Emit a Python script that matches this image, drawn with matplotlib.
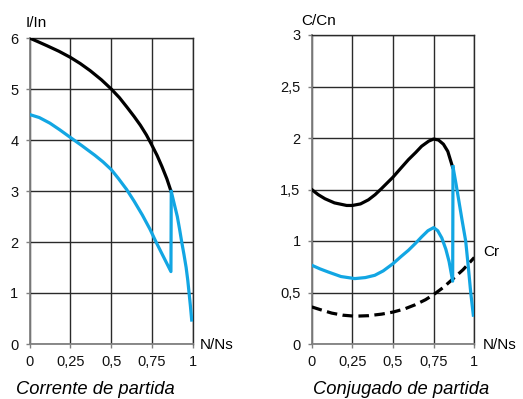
import matplotlib
matplotlib.use("Agg")
import matplotlib.pyplot as plt

plt.rcParams['font.family'] = ['Liberation Sans', 'DejaVu Sans']

BLUE = '#12a6e3'

# Left: Corrente de partida
cur_black_x = [0, 0.05, 0.106, 0.18, 0.25, 0.31, 0.371, 0.44, 0.5, 0.55, 0.597, 0.64, 0.678, 0.715, 0.745, 0.78, 0.81, 0.84, 0.866]
cur_black_y = [6.0, 5.93, 5.85, 5.74, 5.62, 5.5, 5.36, 5.18, 5.0, 4.83, 4.64, 4.46, 4.29, 4.1, 3.92, 3.7, 3.48, 3.24, 2.99]
cur_blue1_x = [0, 0.06, 0.125, 0.185, 0.25, 0.32, 0.4, 0.45, 0.5, 0.545, 0.594, 0.64, 0.69, 0.737, 0.774, 0.81, 0.84, 0.865, 0.867]
cur_blue1_y = [4.5, 4.44, 4.33, 4.2, 4.05, 3.89, 3.7, 3.57, 3.42, 3.24, 3.03, 2.8, 2.53, 2.25, 2.0, 1.77, 1.58, 1.42, 2.99]
cur_blue2_x = [0.867, 0.885, 0.904, 0.918, 0.931, 0.945, 0.958, 0.968, 0.976, 0.984, 0.992]
cur_blue2_y = [2.99, 2.75, 2.5, 2.25, 2.0, 1.75, 1.5, 1.25, 1.0, 0.75, 0.47]

# Right: Conjugado de partida
tq_black_x = [0, 0.04, 0.082, 0.14, 0.215, 0.25, 0.3, 0.349, 0.39, 0.43, 0.5, 0.55, 0.595, 0.64, 0.676, 0.72, 0.75, 0.78, 0.81, 0.837, 0.866]
tq_black_y = [1.5, 1.45, 1.41, 1.37, 1.345, 1.345, 1.36, 1.40, 1.45, 1.51, 1.62, 1.71, 1.79, 1.86, 1.92, 1.97, 1.99, 1.98, 1.94, 1.87, 1.72]
tq_blue1_x = [0, 0.05, 0.10, 0.18, 0.265, 0.33, 0.388, 0.44, 0.5, 0.55, 0.595, 0.64, 0.676, 0.715, 0.75, 0.775, 0.8, 0.825, 0.845, 0.867, 0.869]
tq_blue1_y = [0.765, 0.73, 0.70, 0.655, 0.635, 0.645, 0.667, 0.71, 0.78, 0.85, 0.91, 0.98, 1.04, 1.10, 1.13, 1.10, 1.03, 0.92, 0.80, 0.61, 1.72]
tq_blue2_x = [0.869, 0.888, 0.906, 0.925, 0.947, 0.963, 0.978, 0.994]
tq_blue2_y = [1.72, 1.55, 1.38, 1.2, 1.0, 0.75, 0.5, 0.28]
cr_x = [0, 0.06, 0.123, 0.19, 0.266, 0.35, 0.43, 0.5, 0.57, 0.635, 0.7, 0.75, 0.81, 0.867, 0.93, 1.0]
cr_y = [0.36, 0.33, 0.30, 0.28, 0.27, 0.275, 0.29, 0.31, 0.34, 0.38, 0.43, 0.48, 0.55, 0.63, 0.72, 0.84]

x_ticks = [0, 0.25, 0.5, 0.75, 1]
x_labels = ['0', '0,25', '0,5', '0,75', '1']
yl_ticks = [0, 1, 2, 3, 4, 5, 6]
yl_labels = ['0', '1', '2', '3', '4', '5', '6']
yr_ticks = [0, 0.5, 1, 1.5, 2, 2.5, 3]
yr_labels = ['0', '0,5', '1', '1,5', '2', '2,5', '3']

fig = plt.figure(figsize=(5.23, 3.99), dpi=100)
ax1 = fig.add_axes([29.5/523, 55/399, 163.5/523, 306/399])
ax2 = fig.add_axes([311.7/523, 55/399, 162.6/523, 309/399])

def style(ax, yt, yl, ymax):
    ax.set_xlim(0, 1)
    ax.set_ylim(0, ymax)
    ax.set_xticks(x_ticks)
    ax.set_xticklabels(x_labels)
    ax.set_yticks(yt)
    ax.set_yticklabels(yl)
    ax.grid(True, color='#2a2a2a', linewidth=1.0)
    ax.set_axisbelow(True)
    for s in ['top', 'right']:
        ax.spines[s].set_color('#2a2a2a')
        ax.spines[s].set_linewidth(1.0)
    for s in ['left', 'bottom']:
        ax.spines[s].set_color('#808080')
        ax.spines[s].set_linewidth(1.3)
    ax.tick_params(direction='out', length=3, width=1, color='#808080',
                   labelsize=10.5, labelcolor='#111111')
    ax.tick_params(axis='y', pad=5)
    ax.tick_params(axis='x', pad=5)

style(ax1, yl_ticks, yl_labels, 6)
style(ax2, yr_ticks, yr_labels, 3)

lw = 2.3
ax1.plot(cur_black_x, cur_black_y, color='black', lw=lw, solid_joinstyle='round', zorder=3)
ax1.plot(cur_blue1_x, cur_blue1_y, color=BLUE, lw=lw, solid_joinstyle='round', zorder=4)
ax1.plot(cur_blue2_x, cur_blue2_y, color=BLUE, lw=lw, solid_joinstyle='round', zorder=4)

ax2.plot(cr_x, cr_y, color='black', lw=lw, dashes=(3.3, 1.7), zorder=3)
ax2.plot(tq_black_x, tq_black_y, color='black', lw=lw, solid_joinstyle='round', zorder=3)
ax2.plot(tq_blue1_x, tq_blue1_y, color=BLUE, lw=lw, solid_joinstyle='round', zorder=4)
ax2.plot(tq_blue2_x, tq_blue2_y, color=BLUE, lw=lw, solid_joinstyle='round', zorder=4)

ax1.text(26/523, 1 - 23/399, 'I/In', transform=fig.transFigure, fontsize=11, ha='left', va='center')
ax1.text(200/523, 1 - 345/399, 'N/Ns', transform=fig.transFigure, fontsize=11, ha='left', va='center')
ax2.text(301.5/523, 1 - 21/399, 'C/Cn', transform=fig.transFigure, fontsize=11, ha='left', va='center')
ax2.text(483/523, 1 - 345/399, 'N/Ns', transform=fig.transFigure, fontsize=11, ha='left', va='center')
ax2.text(483/523, 1 - 252/399, 'Cr', transform=fig.transFigure, fontsize=11, ha='left', va='center')

fig.text(95/523, 1 - 393.5/399, 'Corrente de partida', fontsize=13.2, style='italic', ha='center', va='baseline')
fig.text(401/523, 1 - 393.5/399, 'Conjugado de partida', fontsize=13.2, style='italic', ha='center', va='baseline')

fig.savefig('out.png', dpi=100)
